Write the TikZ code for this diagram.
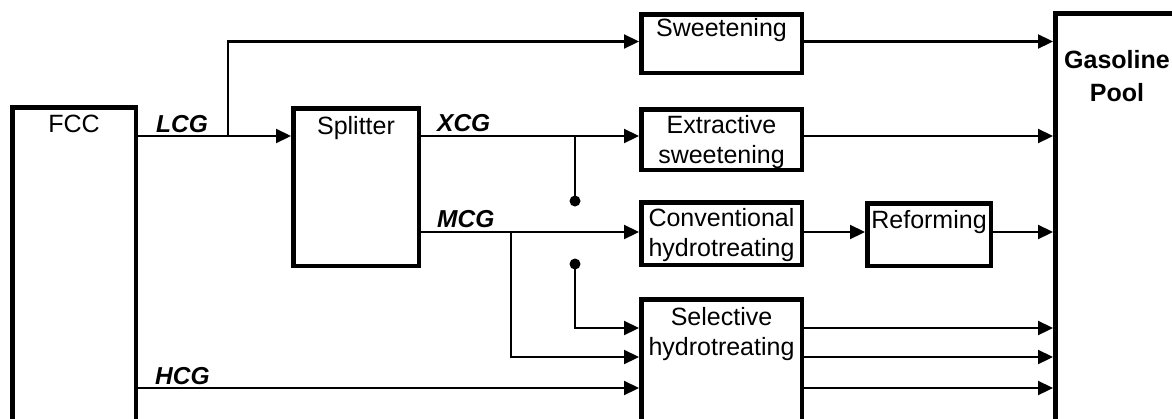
\documentclass[tikz,border=0pt]{standalone}
\usepackage{fontspec}
\setmainfont{Liberation Sans}
\usetikzlibrary{arrows.meta,positioning}
\begin{document}
\begin{tikzpicture}[x=1pt,y=-1pt,
  box/.style={draw, line width=4.5pt, rectangle, anchor=north west, inner sep=0pt},
  txt/.style={font=\fontsize{25}{30}\selectfont, align=center, inner sep=0pt, anchor=north},
  lbl/.style={font=\fontsize{24.5}{30}\selectfont\bfseries\itshape, inner sep=0pt, anchor=base west},
  arr/.style={line width=2.2pt, -{Triangle[length=15pt,width=14pt]}},
  ln/.style={line width=1.8pt},
  dotn/.style={circle, fill, inner sep=0pt, minimum size=11pt},
]
\useasboundingbox (0,0) rectangle (1172,418);
\fill[white] (0,0) rectangle (1172,418);
\clip (0,0) rectangle (1172,418);

% boxes
\node[box, minimum width=123.5pt, minimum height=400pt] (fcc) at (10,105) {};
\node[box, minimum width=125.5pt, minimum height=157.5pt] (split) at (291,106) {};
\node[box, minimum width=160.5pt, minimum height=58.5pt] (sweet) at (639,12) {};
\node[box, minimum width=160.5pt, minimum height=60.5pt] (extr) at (639,107) {};
\node[box, minimum width=160.5pt, minimum height=62.5pt] (conv) at (639,200) {};
\node[box, minimum width=123.5pt, minimum height=62.5pt] (reform) at (865,201) {};
\node[box, minimum width=160.5pt, minimum height=200pt] (sel) at (639,297) {};
\node[box, minimum width=200pt, minimum height=500pt] (pool) at (1053,11) {};

% box texts
\node[txt, below=10pt of fcc.north] (tfcc) {FCC};
\node[txt, below=10pt of split.north] (tsplit) {Splitter};
\node[txt, below=6pt of sweet.north] (tsweet) {Sweetening};
\node[txt, below=8pt of extr.north] (textr) {Extractive\\sweetening};
\node[txt, below=8pt of conv.north] (tconv) {Conventional\\hydrotreating};
\node[txt, below=9pt of reform.north] (treform) {Reforming};
\node[txt, below=10pt of sel.north] (tsel) {Selective\\hydrotreating};
\node[txt, font=\fontsize{25}{33}\selectfont\bfseries] (tpool) at (1117,50) {Gasoline\\Pool};

% helper coordinates
\coordinate (yA) at (0,41.5);
\coordinate (yB) at (0,136);
\coordinate (yC) at (0,232);
\coordinate (yD) at (0,328);
\coordinate (yE) at (0,357);
\coordinate (yF) at (0,388);
\coordinate (bL) at (228,136);
\coordinate (bX) at (575,136);
\coordinate (bM) at (511,232);
\node[dotn] (dot1) at (575,201) {};
\node[dotn] (dot2) at (575,264) {};

% connectors
\draw[arr] (fcc.east |- yB) -- (split.west |- yB);
\draw[arr] (bL) |- (sweet.west |- yA);
\draw[arr] (sweet.east |- yA) -- (pool.west |- yA);
\draw[arr] (split.east |- yB) -- (extr.west |- yB);
\draw[ln] (bX) -- (dot1.center);
\draw[arr] (extr.east |- yB) -- (pool.west |- yB);
\draw[arr] (split.east |- yC) -- (conv.west |- yC);
\draw[arr] (conv.east |- yC) -- (reform.west |- yC);
\draw[arr] (reform.east |- yC) -- (pool.west |- yC);
\draw[arr] (dot2.center) |- (sel.west |- yD);
\draw[arr] (bM) |- (sel.west |- yE);
\draw[arr] (fcc.east |- yF) -- (sel.west |- yF);
\draw[arr] (sel.east |- yD) -- (pool.west |- yD);
\draw[arr] (sel.east |- yE) -- (pool.west |- yE);
\draw[arr] (sel.east |- yF) -- (pool.west |- yF);

% stream labels
\node[lbl] (lcg) at (156,132) {LCG};
\node[lbl] (xcg) at (437,131) {XCG};
\node[lbl] (mcg) at (437,227) {MCG};
\node[lbl] (hcg) at (155,384) {HCG};
\end{tikzpicture}
\end{document}
